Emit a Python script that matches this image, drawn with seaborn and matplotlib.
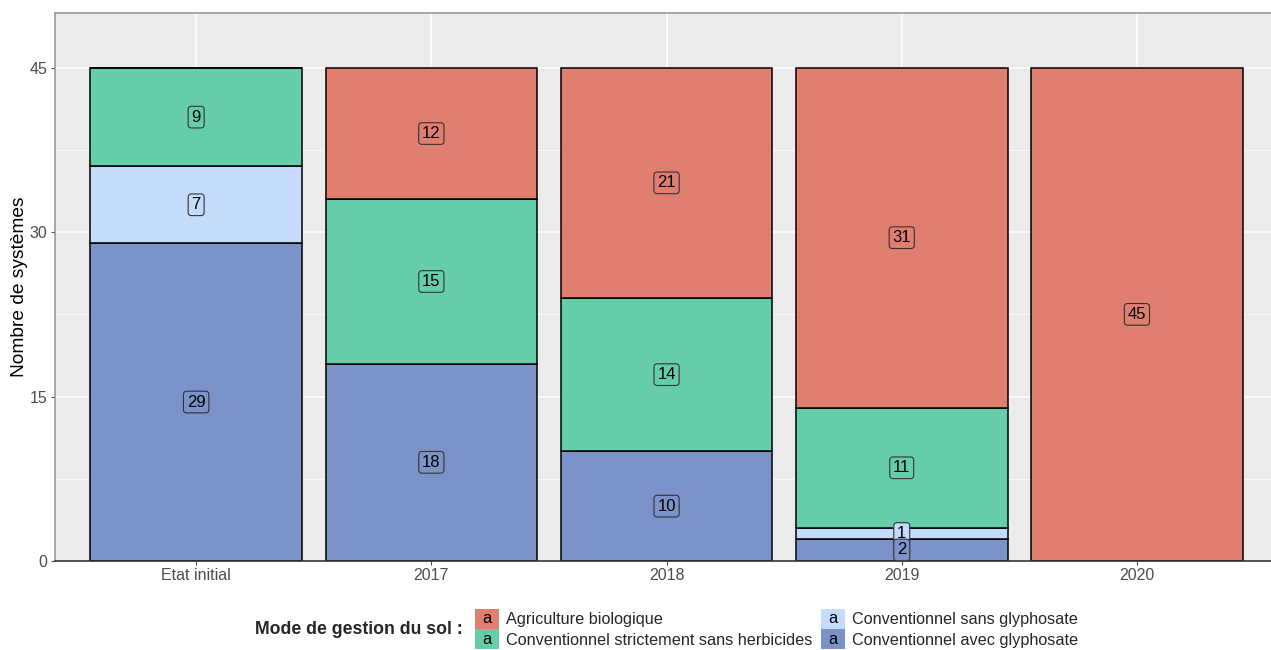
import matplotlib
matplotlib.use("Agg")
from matplotlib import pyplot as plt
from matplotlib.legend_handler import HandlerBase
from matplotlib.patches import Rectangle, Patch
from matplotlib.text import Text
import numpy as np
import seaborn as sns

# Data
annees = ['Etat initial', '2017', '2018', '2019', '2020']
avec_glyphosate = [29, 18, 10, 2, 0]
sans_glyphosate = [7, 0, 0, 1, 0]
strict_sans_herbicides = [9, 15, 14, 11, 0]
agriculture_bio = [0, 12, 21, 31, 45]

modes = ['Conventionnel avec glyphosate', 'Conventionnel sans glyphosate',
         'Conventionnel strictement sans herbicides', 'Agriculture biologique']
series = [avec_glyphosate, sans_glyphosate, strict_sans_herbicides, agriculture_bio]
colors = ['#7B93C9', '#C4DBFB', '#66CDAA', '#E07E6F']

sns.set_style("darkgrid", {"axes.facecolor": "#EBEBEB", "grid.color": "white"})
plt.rcParams['font.family'] = ['Liberation Sans', 'DejaVu Sans']

fig = plt.figure(figsize=(12.71, 6.5), dpi=100)
ax = fig.add_axes([0.0433, 0.137, 0.9567, 0.843])

# stacked bars, bottom to top
bottom = np.zeros(len(annees))
for k, (name, vals, col) in enumerate(zip(modes, series, colors)):
    vals = np.array(vals, dtype=float)
    sns.barplot(x=annees, y=vals, bottom=bottom, color=col, saturation=1,
                edgecolor='black', linewidth=1.1, width=0.9, ax=ax, zorder=2)
    for i, v in enumerate(vals):
        if v > 0:
            ax.text(i, bottom[i] + v / 2, f"{int(v)}", ha='center', va='center',
                    fontsize=12, color='black', zorder=5 - 0.1 * k,
                    bbox=dict(boxstyle='round,pad=0.2,rounding_size=0.2',
                              facecolor=col, edgecolor='#333333', linewidth=0.8))
    bottom += vals

ax.set_xlim(-0.6, 4.57)
ax.set_ylim(0, 50)
ax.set_yticks([0, 15, 30, 45])
ax.set_yticks([7.5, 22.5, 37.5], minor=True)
ax.grid(True, which='major', color='white', linewidth=1.1, zorder=0)
ax.grid(True, which='minor', axis='y', color='white', linewidth=0.5, zorder=0)
ax.set_axisbelow(True)
ax.tick_params(axis='both', which='major', labelsize=11.5, colors='#4D4D4D',
               length=3, width=0.8, left=True, bottom=True, pad=2.5,
               labelcolor='#4D4D4D')
ax.tick_params(axis='x', pad=2)
ax.tick_params(which='minor', length=0)
ax.set_xlabel('')
ax.set_ylabel('Nombre de systèmes', fontsize=13.8, color='black', labelpad=1)

for side in ['top', 'left']:
    ax.spines[side].set_visible(True)
    ax.spines[side].set_color('#999999')
    ax.spines[side].set_linewidth(1.2)
ax.spines['right'].set_visible(False)
ax.spines['bottom'].set_visible(True)
ax.spines['bottom'].set_color('#333333')
ax.spines['bottom'].set_linewidth(1.2)


class HandlerA(HandlerBase):
    # legend key: filled square with an "a", like ggplot's geom_label key
    def create_artists(self, legend, orig_handle, xdescent, ydescent,
                       width, height, fontsize, trans):
        r = Rectangle((-xdescent, -ydescent), width, height,
                      facecolor=orig_handle.get_facecolor(), edgecolor='none',
                      transform=trans)
        t = Text(-xdescent + width / 2, -ydescent + height / 2, 'a',
                 ha='center', va='center', fontsize=fontsize, color='black',
                 transform=trans)
        return [r, t]


order = [3, 2, 1, 0]
handles = [Patch(facecolor=colors[i], label=modes[i]) for i in order]
leg = fig.legend(handles=handles, labels=[modes[i] for i in order], ncol=2,
                 loc='center left', bbox_to_anchor=(0.3674, 0.0323),
                 frameon=False, fontsize=11.7, handler_map={Patch: HandlerA()},
                 handlelength=1.45, handleheight=1.56, handletextpad=0.45,
                 columnspacing=0.55, labelspacing=0.0, borderpad=0)
fig.text(0.364, 0.0323, 'Mode de gestion du sol :', ha='right', va='center',
         fontsize=12.7, fontweight='bold')

fig.savefig('out.png', dpi=100)
